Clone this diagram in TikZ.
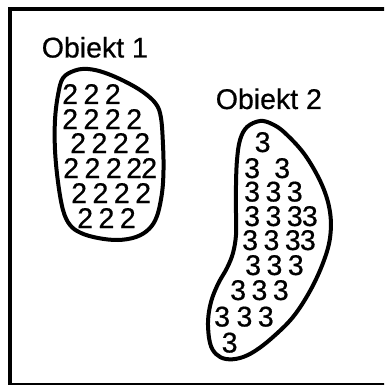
\documentclass[tikz,border=0pt]{standalone}
\usepackage{fontspec}
\setmainfont{Liberation Sans}
\newfontfamily\heavyfont[FakeBold=0.6]{Liberation Sans}
\newcommand\dsp{\hspace{5.5pt}}
\begin{document}
\begin{tikzpicture}[x=1pt,y=-1pt,
  blob/.style={line width=4pt, line join=round},
  lbl/.style={font=\heavyfont\fontsize{28.5}{28.5}\selectfont, anchor=base west, inner sep=0pt},
  dig/.style={font=\heavyfont\fontsize{28.5}{20}\selectfont, anchor=base west, inner sep=0pt}]
\useasboundingbox (0,0) rectangle (384,385);
\begin{scope}
\clip (0,0) rectangle (384,385);
\draw[line width=4pt] (10.3,8.8) rectangle (400,384.8);
\end{scope}
% labels
\node[lbl] (l1) at (41.6,57.5) {Obiekt 1};
\node[lbl] (l2) at (215.6,109) {Obiekt 2};
% object 1 outline
\draw[blob] plot[smooth cycle, tension=0.6] coordinates {
 (58,95) (63,78) (75,70.5) (88,69) (104,72.5) (124,81) (143,92) (156,104)
 (161,118) (163,145) (163.5,170) (162,193) (157,216) (149,229) (136,237)
 (118,240) (98,238) (81,233) (70,225) (63,210) (58,182) (55,150) (55,120)};
% object 2 outline
\draw[blob] plot[smooth cycle, tension=0.6] coordinates {
 (260,121) (247,127) (240,140) (237,160) (236,185) (236,215) (236,235)
 (233,253) (227,268) (218,284) (211,302) (208,322) (210,343) (216,354)
 (226,359) (240,358) (255,351) (273,337) (293,317) (310,291) (323,263)
 (330,238) (330,212) (322,185) (305,155) (285,133) (272,124)};
% object 1 digits
\node[dig] (a1) at (62,104) {2\dsp2\dsp2};
\node[dig] (a2) at (62,129) {2\dsp2\dsp2\dsp2};
\node[dig] (a3) at (70,153) {2\dsp2\dsp2\dsp2};
\node[dig] (a4) at (63,178) {2\dsp2\dsp2\hspace{4.5pt}2\hspace{-0.8pt}2};
\node[dig] (a5) at (71,203) {2\dsp2\dsp2\dsp2};
\node[dig] (a6) at (77,228) {2\dsp2\dsp2};
% object 2 digits
\node[dig] (b1) at (254.5,152) {3};
\node[dig] (b2) at (244,178) {3\hspace{14.2pt}3};
\node[dig] (b3) at (244,201.5) {3\dsp3\dsp3};
\node[dig] (b4) at (244,226) {3\dsp3\dsp3\hspace{-0.8pt}3};
\node[dig] (b5) at (242,250) {3\dsp3\dsp3\hspace{-0.8pt}3};
\node[dig] (b6) at (245,275) {3\dsp3\dsp3};
\node[dig] (b7) at (230,300) {3\dsp3\dsp3};
\node[dig] (b8) at (214,326.5) {3\hspace{6.5pt}3\dsp3};
\node[dig] (b9) at (221.5,352.5) {3};
\end{tikzpicture}
\end{document}
